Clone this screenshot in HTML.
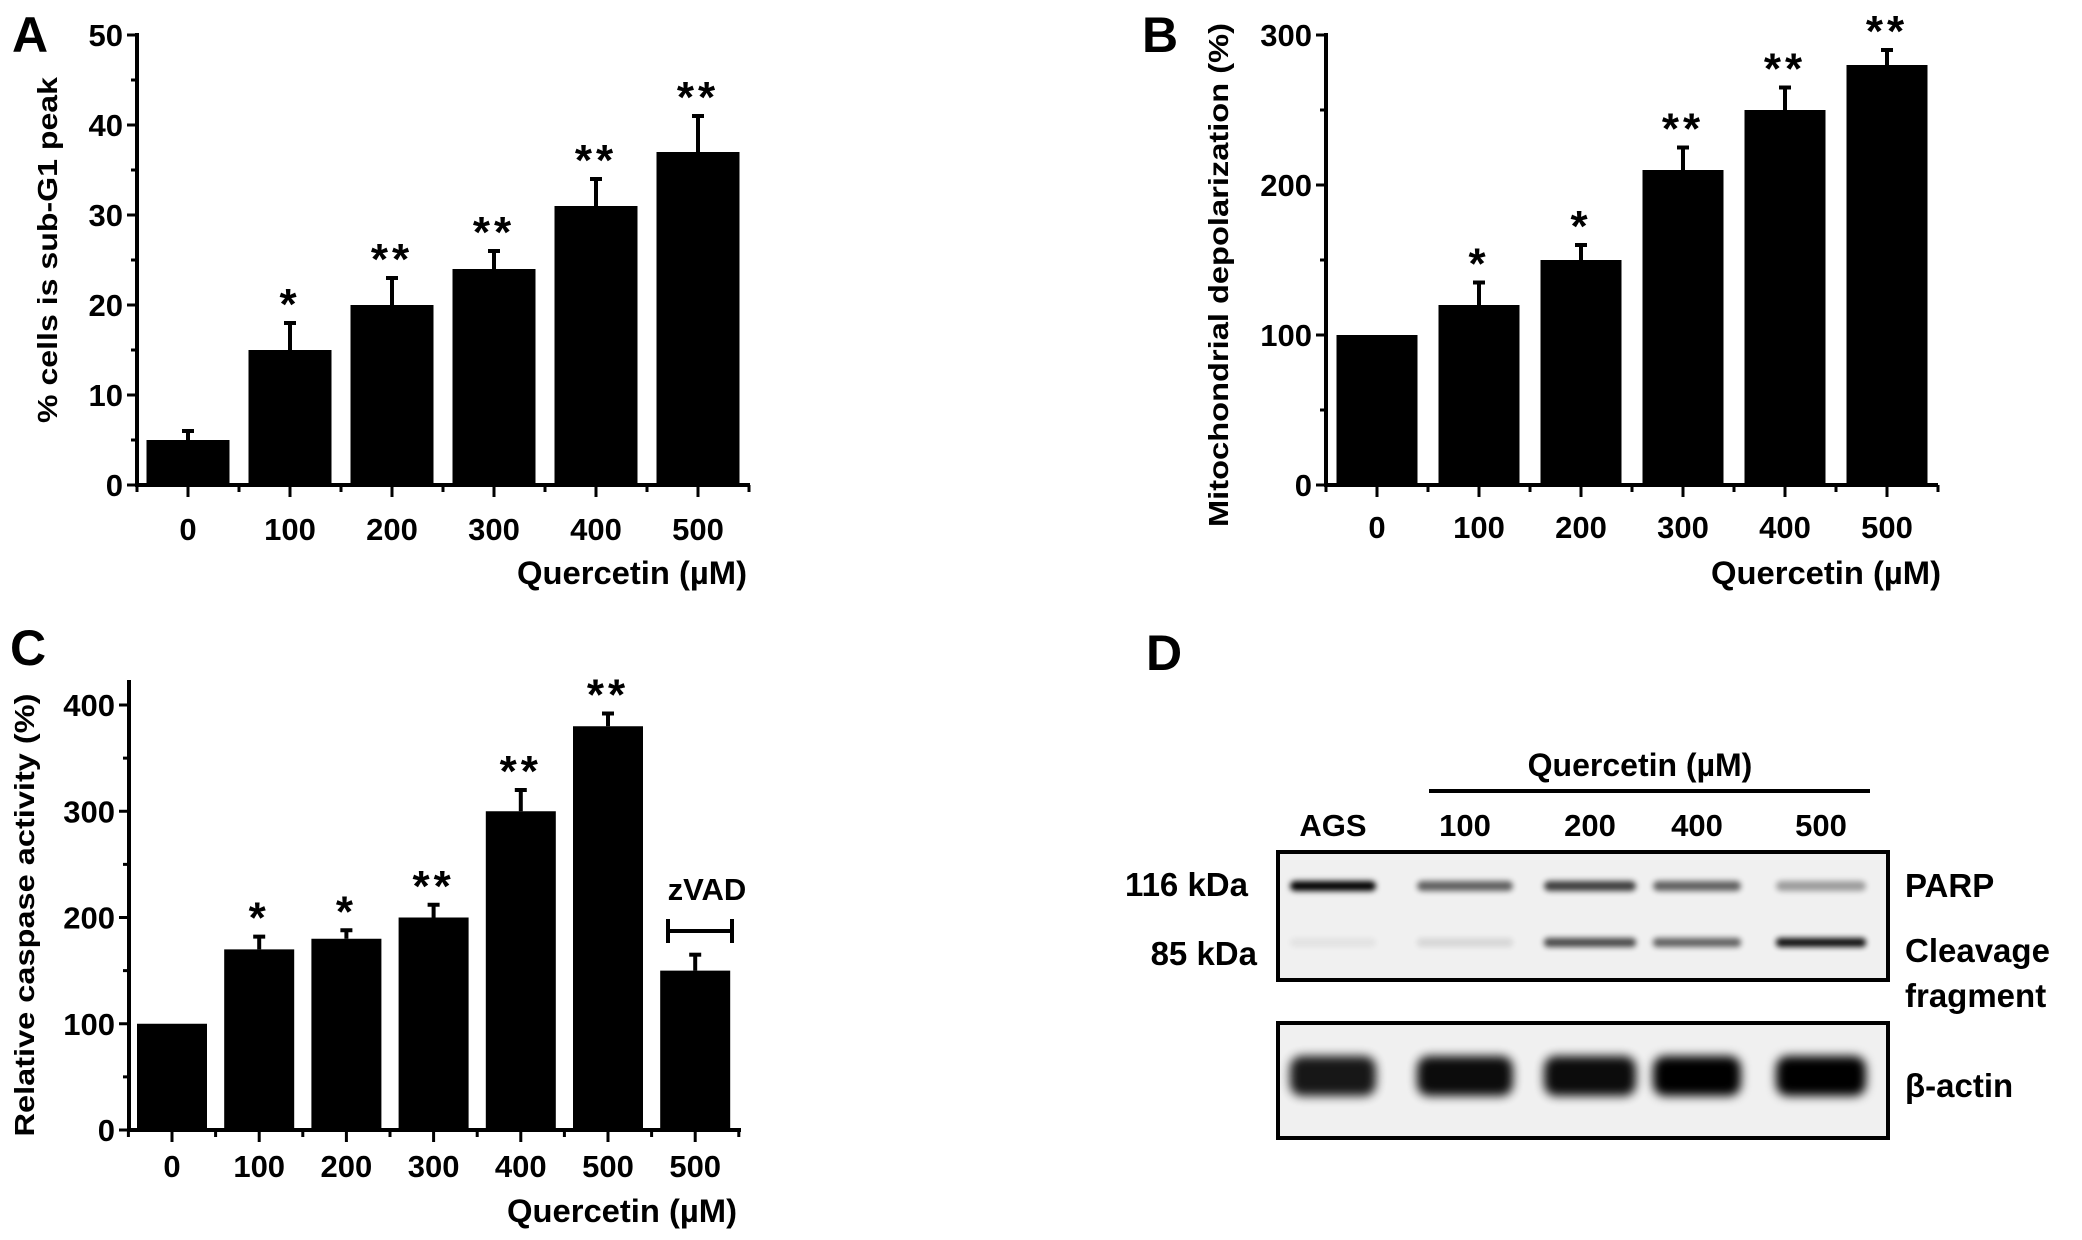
<!DOCTYPE html>
<html><head><meta charset="utf-8"><style>
html,body{margin:0;padding:0;background:#fff}
svg{display:block}
text{font-family:"Liberation Sans Narrow","Liberation Sans",sans-serif;font-weight:bold;fill:#000}
.wide{font-family:"Liberation Sans",sans-serif}
</style></head><body>
<svg id="fig" width="2082" height="1240" viewBox="0 0 2082 1240" xmlns="http://www.w3.org/2000/svg">
<defs>
<filter id="blur" x="-20%" y="-100%" width="140%" height="300%"><feGaussianBlur stdDeviation="3"/></filter>
<filter id="blur2" x="-20%" y="-100%" width="140%" height="300%"><feGaussianBlur stdDeviation="5"/></filter>
</defs>
<g id="panelA"></g>
<g id="panelB"></g>
<g id="panelC"></g>
<g id="panelD"></g>
</svg>
<script>
// Panel A data
const aCategories = ["0","100","200","300","400","500"];
const aValues = [5,15,20,24,31,37];
const aErrors = [1,3,3,2,3,4];
const aStars = ["","*","**","**","**","**"];
const aTicks = [0,10,20,30,40,50];
// Panel B data
const bCategories = ["0","100","200","300","400","500"];
const bValues = [100,120,150,210,250,280];
const bErrors = [0,15,10,15,15,10];
const bStars = ["","*","*","**","**","**"];
const bTicks = [0,100,200,300];
// Panel C data
const cCategories = ["0","100","200","300","400","500","500"];
const cValues = [100,170,180,200,300,380,150];
const cErrors = [0,12,8,12,20,12,15];
const cStars = ["","*","*","**","**","**",""];
const cTicks = [0,100,200,300,400];
// Panel D data
const dLanes = ["AGS","100","200","400","500"];
const dParp = [1.0,0.6,0.75,0.6,0.35];
const dCleave = [0.05,0.1,0.7,0.6,0.95];
const dActin = [0.9,0.95,0.95,1.0,1.0];

const NS="http://www.w3.org/2000/svg";
function mk(parent,tag,attrs,txt){const e=document.createElementNS(NS,tag);for(const k in attrs)e.setAttribute(k,attrs[k]);if(txt!==undefined)e.textContent=txt;parent.appendChild(e);return e;}

function barChart(g,cfg,cats,vals,errs,stars,ticks){
  const ymax=ticks[ticks.length-1];
  const yS=v=>cfg.y0-(v/ymax)*(cfg.y0-cfg.yTop);
  const xC=i=>cfg.firstC+i*cfg.step;
  // bars
  cats.forEach((c,i)=>{
    const r=mk(g,'rect',{x:xC(i)-cfg.bw/2,y:yS(vals[i]),width:cfg.bw,height:cfg.y0-yS(vals[i]),fill:'#000'});
    
    
    if(errs[i]>0){
      const top=yS(vals[i]+errs[i]);
      const l=mk(g,'line',{x1:xC(i),x2:xC(i),y1:yS(vals[i]),y2:top,stroke:'#000','stroke-width':4});
      
      
      mk(g,'line',{x1:xC(i)-6,x2:xC(i)+6,y1:top,y2:top,stroke:'#000','stroke-width':4});
    }
    if(stars[i]){
      const top=yS(vals[i]+errs[i]);
      const s=mk(g,'text',{x:xC(i),y:top-4,'text-anchor':'middle','font-size':44,class:'wide','letter-spacing':4},stars[i]);
      
      
    }
    const t=mk(g,'text',{x:xC(i),y:cfg.labY,'text-anchor':'middle','font-size':31},c);
    
    
    mk(g,'line',{x1:xC(i),x2:xC(i),y1:cfg.y0,y2:cfg.y0+12,stroke:'#000','stroke-width':3});
    mk(g,'line',{x1:xC(i)+cfg.step/2,x2:xC(i)+cfg.step/2,y1:cfg.y0,y2:cfg.y0+7,stroke:'#000','stroke-width':3});
  });
  mk(g,'line',{x1:xC(0)-cfg.step/2,x2:xC(0)-cfg.step/2,y1:cfg.y0,y2:cfg.y0+7,stroke:'#000','stroke-width':3});
  // axes
  const ya=mk(g,'line',{x1:cfg.ax,x2:cfg.ax,y1:cfg.axTop,y2:cfg.y0+2,stroke:'#000','stroke-width':4});
  
  
  const xa=mk(g,'line',{x1:cfg.ax-2,x2:cfg.xEnd,y1:cfg.y0,y2:cfg.y0,stroke:'#000','stroke-width':4});
  
  
  ticks.forEach((v,i)=>{
    mk(g,'line',{x1:cfg.ax-10,x2:cfg.ax,y1:yS(v),y2:yS(v),stroke:'#000','stroke-width':3});
    if(i<ticks.length-1){const mv=(v+ticks[i+1])/2;mk(g,'line',{x1:cfg.ax-6,x2:cfg.ax,y1:yS(mv),y2:yS(mv),stroke:'#000','stroke-width':3});}
    const t=mk(g,'text',{x:cfg.ax-14,y:yS(v)+11,'text-anchor':'end','font-size':31},String(v));
    
    
  });
  const xt=mk(g,'text',{x:cfg.titleR,y:cfg.titleY,'text-anchor':'end','font-size':32,textLength:230,lengthAdjust:'spacingAndGlyphs'},'Quercetin (µM)');
  
  
  const yt=mk(g,'text',{x:0,y:0,'text-anchor':'middle','font-size':28,class:'wide',textLength:cfg.yLabLen,lengthAdjust:'spacingAndGlyphs',transform:`translate(${cfg.yLabX},${cfg.yLabC}) rotate(-90)`},cfg.yLabel);
  
  
  const pl=mk(g,'text',{x:cfg.letterX,y:cfg.letterY,'font-size':50,class:'wide'},cfg.letter);
  
  
}

barChart(document.getElementById('panelA'),{y0:485,yTop:35,axTop:33,ax:137,firstC:188,step:102,bw:83,xEnd:750,labY:540,titleR:747,titleY:584,
  yLabel:'% cells is sub-G1 peak',yLabX:57,yLabC:250,yLabLen:346,letter:'A',letterX:12,letterY:52},aCategories,aValues,aErrors,aStars,aTicks);
barChart(document.getElementById('panelB'),{y0:485,yTop:35,axTop:33,ax:1326,firstC:1377,step:102,bw:81,xEnd:1938,labY:538,titleR:1941,titleY:584,
  yLabel:'Mitochondrial depolarization (%)',yLabX:1228,yLabC:275,yLabLen:504,letter:'B',letterX:1142,letterY:52},bCategories,bValues,bErrors,bStars,bTicks);
barChart(document.getElementById('panelC'),{y0:1130,yTop:705,axTop:680,ax:129,firstC:172,step:87.2,bw:70,xEnd:741,labY:1177,titleR:737,titleY:1222,
  yLabel:'Relative caspase activity (%)',yLabX:34,yLabC:915,yLabLen:443,letter:'C',letterX:10,letterY:665},cCategories,cValues,cErrors,cStars,cTicks);

// zVAD annotation
(function(){
  const g=document.getElementById('panelC');
  const t=mk(g,'text',{x:707,y:900,'text-anchor':'middle','font-size':31},'zVAD');
  
  
  const b=mk(g,'path',{d:'M668 919 V943 M668 931 H732 M732 919 V943',stroke:'#000','stroke-width':4,fill:'none'});
  
  
})();

// Panel D western blot
(function(){
  const g=document.getElementById('panelD');
  const L=mk(g,'text',{x:1146,y:670,'font-size':50,class:'wide'},'D');
  
  
  const q=mk(g,'text',{x:1640,y:776,'text-anchor':'middle','font-size':32},'Quercetin (µM)');
  
  
  const ln=mk(g,'line',{x1:1429,x2:1870,y1:791,y2:791,stroke:'#000','stroke-width':4});
  
  
  const laneC=[1333,1465,1590,1697,1821];
  const laneW=[86,96,92,88,90];
  dLanes.forEach((n,i)=>{
    const t=mk(g,'text',{x:laneC[i],y:836,'text-anchor':'middle','font-size':31},n);
    
    
  });
  const b1=mk(g,'rect',{x:1278,y:852,width:610,height:128,fill:'#f0f0f0',stroke:'#000','stroke-width':4});
  
  
  const b2=mk(g,'rect',{x:1278,y:1023,width:610,height:115,fill:'#f0f0f0',stroke:'#000','stroke-width':4});
  
  
  dLanes.forEach((n,i)=>{
    const p=mk(g,'rect',{x:laneC[i]-laneW[i]/2,y:881,width:laneW[i],height:10,rx:5,fill:'#000',opacity:dParp[i],filter:'url(#blur)'});
    
    
    const c=mk(g,'rect',{x:laneC[i]-laneW[i]/2,y:938,width:laneW[i],height:9,rx:4,fill:'#000',opacity:dCleave[i],filter:'url(#blur)'});
    
    
    const a=mk(g,'rect',{x:laneC[i]-laneW[i]/2,y:1056,width:laneW[i],height:40,rx:12,fill:'#000',opacity:dActin[i],filter:'url(#blur2)'});
    
    
  });
  const labels=[['116 kDa',1248,896,'end'],['85 kDa',1257,965,'end'],['PARP',1905,897,'start'],['Cleavage',1905,962,'start'],['fragment',1905,1007,'start'],['β-actin',1905,1097,'start']];
  labels.forEach((l,i)=>{
    const t=mk(g,'text',{x:l[1],y:l[2],'text-anchor':l[3],'font-size':33},l[0]);
    
    
  });
})();
</script>
</body></html>
